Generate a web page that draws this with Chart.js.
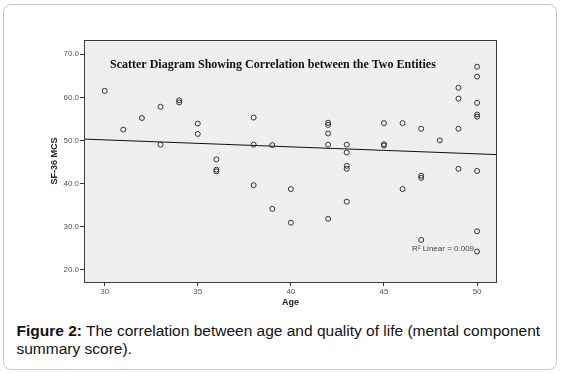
<!DOCTYPE html>
<html>
<head>
<meta charset="utf-8">
<script src="https://cdn.jsdelivr.net/npm/chart.js@4/dist/chart.umd.min.js"></script>
<style>
  body { margin: 0; background: #fff; }
  .card {
    position: absolute; left: 3px; top: 4px; width: 552px; height: 364px;
    border: 1.5px solid #c9c9c9; border-radius: 8px;
  }
  #myCanvas { position: absolute; left: 0; top: 0; }
  .caption {
    position: absolute; left: 16.5px; top: 322px; width: 535px; margin: 0;
    font-family: "Liberation Sans", Arial, sans-serif; font-size: 15.5px;
    line-height: 18px; color: #111;
  }
</style>
</head>
<body>
<div class="card"></div>
<canvas id="myCanvas" width="562" height="318"></canvas>
<p class="caption"><b>Figure 2:</b> The correlation between age and quality of life (mental component summary score).</p>
<script>
const ages = [
  30, 31, 32, 33, 33, 34, 34, 35, 35, 36, 36, 36,
  38, 38, 38, 39, 39, 40, 40,
  42, 42, 42, 42, 42, 43, 43, 43, 43, 43,
  45, 45, 45, 46, 46, 47, 47, 47, 47, 48,
  49, 49, 49, 49, 50, 50, 50, 50, 50, 50, 50, 50];
const mcsScores = [
  61.5, 52.5, 55.2, 57.8, 49.0, 59.3, 58.8, 53.9, 51.5, 45.6, 43.2, 42.8,
  55.3, 49.0, 39.6, 48.9, 34.1, 38.7, 30.9,
  54.1, 53.6, 51.6, 49.0, 31.8, 49.0, 47.2, 44.1, 43.4, 35.8,
  54.0, 49.1, 48.8, 54.0, 38.7, 52.7, 41.8, 41.3, 26.9, 50.0,
  62.2, 59.7, 52.7, 43.4, 67.1, 64.8, 58.7, 56.0, 55.5, 42.9, 28.9, 24.2];

// fit line end points
const fitAges = [28.89, 51.07];
const fitScores = [50.3, 46.7];

const xTicks = [30, 35, 40, 45, 50];
const yTicks = [20, 30, 40, 50, 60, 70];

const chartTitle = "Scatter Diagram Showing Correlation between the Two Entities";
const r2Label = "R\u00b2 Linear = 0.009";

const plotBox = {
  id: "plotBox",
  beforeDraw(chart) {
    const { ctx, chartArea: a } = chart;
    ctx.save();
    ctx.fillStyle = "#efefef";
    ctx.fillRect(a.left, a.top, a.right - a.left, a.bottom - a.top);
    ctx.restore();
  },
  afterDraw(chart) {
    const { ctx, chartArea: a } = chart;
    ctx.save();
    ctx.strokeStyle = "#3a3a3a";
    ctx.lineWidth = 1;
    ctx.strokeRect(a.left + 0.5, a.top + 0.5, a.right - a.left - 1, a.bottom - a.top);
    ctx.fillStyle = "#111";
    ctx.font = "bold 12px 'Liberation Serif', 'Times New Roman', serif";
    ctx.textBaseline = "alphabetic";
    ctx.fillText(chartTitle, a.left + 26, a.top + 28);
    ctx.fillStyle = "#444";
    ctx.font = "8px 'Liberation Sans', Arial, sans-serif";
    ctx.textBaseline = "middle";
    ctx.fillText(r2Label, a.right - 85, a.bottom - 33);
    ctx.restore();
  },
};

new Chart(document.getElementById("myCanvas"), {
  type: "scatter",
  data: {
    datasets: [
      {
        data: ages.map((a, i) => ({ x: a, y: mcsScores[i] })),
        pointStyle: "circle",
        pointRadius: 2.5,
        pointBorderWidth: 1,
        pointBorderColor: "#333",
        pointBackgroundColor: "rgba(0,0,0,0)",
      },
      {
        type: "line",
        data: fitAges.map((a, i) => ({ x: a, y: fitScores[i] })),
        borderColor: "#111",
        borderWidth: 1,
        pointRadius: 0,
        fill: false,
      },
    ],
  },
  options: {
    responsive: false,
    animation: false,
    layout: { padding: { left: 46, top: 40, right: 65, bottom: 8 } },
    plugins: { legend: { display: false }, tooltip: { enabled: false } },
    scales: {
      x: {
        type: "linear",
        min: 28.89,
        max: 51.07,
        afterBuildTicks: (axis) => { axis.ticks = xTicks.map((v) => ({ value: v })); },
        afterFit: (axis) => { axis.height = 28; },
        grid: { drawOnChartArea: false, drawTicks: true, tickLength: 4, color: "#333" },
        border: { display: false },
        ticks: { font: { size: 8, family: "'Liberation Sans', Arial" }, color: "#555", padding: 1 },
        title: {
          display: true, text: "Age", color: "#222",
          font: { size: 9, weight: "bold", family: "'Liberation Sans', Arial" },
          padding: { top: 0, bottom: 2 },
        },
      },
      y: {
        min: 17.13,
        max: 73.3,
        afterBuildTicks: (axis) => { axis.ticks = yTicks.map((v) => ({ value: v })); },
        afterFit: (axis) => { axis.width = 38; },
        grid: { drawOnChartArea: false, drawTicks: true, tickLength: 4, color: "#333" },
        border: { display: false },
        ticks: {
          font: { size: 8, family: "'Liberation Sans', Arial" }, color: "#555", padding: 1,
          callback: (v) => v.toFixed(1),
        },
        title: {
          display: true, text: "SF-36 MCS", color: "#222",
          font: { size: 9, weight: "bold", family: "'Liberation Sans', Arial" },
          padding: { top: 3, bottom: 0 },
        },
      },
    },
  },
  plugins: [plotBox],
});
</script>
</body>
</html>
